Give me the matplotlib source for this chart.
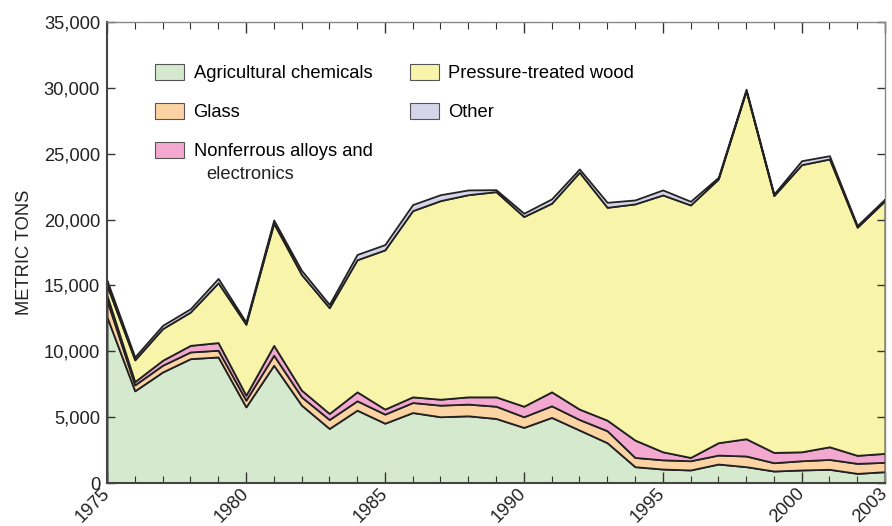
import matplotlib
matplotlib.use("Agg")
import matplotlib.pyplot as plt
from matplotlib.patches import Patch
from matplotlib.ticker import MultipleLocator, FuncFormatter

years = list(range(1975, 2004))
agricultural = [12600, 7000, 8430, 9440, 9570, 5780, 8940, 5910, 4140, 5530,
                4540, 5350, 5030, 5100, 4900, 4220, 4980, 4020, 3060, 1240,
                1060, 990, 1440, 1240, 910, 990, 1040, 730, 860]
glass = [1260, 450, 510, 510, 510, 510, 760, 630, 680, 710,
         690, 760, 880, 890, 930, 810, 880, 800, 910, 700,
         700, 700, 680, 810, 630, 700, 750, 760, 710]
nonferrous = [380, 250, 380, 500, 580, 380, 750, 510, 460, 680,
              380, 430, 450, 550, 710, 800, 1060, 790, 800, 1320,
              610, 250, 940, 1310, 780, 680, 960, 610, 680]
wood = [760, 1650, 2400, 2530, 4540, 5380, 9270, 8780, 8030, 10030,
        12090, 14140, 15080, 15350, 15580, 14400, 14320, 17980, 16160, 17930,
        19500, 19170, 20020, 26410, 19500, 21800, 21850, 17320, 19190]
other = [380, 220, 250, 250, 330, 170, 250, 310, 250, 400,
         400, 460, 450, 360, 150, 250, 330, 250, 380, 300,
         380, 280, 130, 130, 120, 300, 250, 130, 130]

labels = ["Agricultural chemicals", "Glass", "Nonferrous alloys and",
          "Pressure-treated wood", "Other"]
label_cont = "electronics"
colors = ["#d5e9cf", "#fcd3a3", "#f3a9cf", "#f8f5aa", "#d5d5e9"]
xtick_labels = [1975, 1980, 1985, 1990, 1995, 2000, 2003]

plt.rcParams['font.family'] = ['Liberation Sans', 'DejaVu Sans']
FS = 13.2

W, H = 892, 526
fig = plt.figure(figsize=(W / 100, H / 100), dpi=100)
ax = fig.add_axes([107/W, 1 - 483/H, 778/W, 461/H])

ax.stackplot(years, agricultural, glass, nonferrous, wood, other,
             colors=colors, edgecolor="#222222", linewidth=1.3)

ax.set_xlim(1975, 2003)
ax.set_ylim(0, 35000)

ax.xaxis.set_minor_locator(MultipleLocator(1))
ax.set_xticks(xtick_labels)
ax.set_xticklabels([str(v) for v in xtick_labels], rotation=45,
                   ha="right", va="center", rotation_mode="anchor",
                   fontsize=FS, color="#222222")
ax.yaxis.set_major_locator(MultipleLocator(5000))
ax.yaxis.set_major_formatter(FuncFormatter(lambda v, p: f"{int(v):,}"))
ax.tick_params(axis="y", labelsize=FS, labelcolor="#222222")

ax.tick_params(which="both", direction="in", top=True, right=True, color="#333333")
ax.tick_params(axis="x", which="major", length=8, width=1, pad=6)
ax.tick_params(axis="x", which="minor", length=5, width=0.8)
ax.tick_params(axis="y", which="major", length=6, width=1, pad=5)

for side in ["left", "bottom"]:
    ax.spines[side].set_color("#444444")
    ax.spines[side].set_linewidth(1.5)
for side in ["top", "right"]:
    ax.spines[side].set_color("#888888")
    ax.spines[side].set_linewidth(1.0)

ax.set_ylabel("METRIC TONS", fontsize=FS, color="#222222", labelpad=8)

handles = [Patch(facecolor=c, edgecolor="#555555", linewidth=0.8) for c in colors]
leg = ax.legend(handles, labels, ncol=2, loc="upper left", bbox_to_anchor=(0.0617, 0.909),
                frameon=False, fontsize=FS, handlelength=1.6, handleheight=1.0,
                labelspacing=1.12, columnspacing=2.05, handletextpad=0.5, borderpad=0,
                borderaxespad=0)

fig.canvas.draw()
bb = leg.get_texts()[2].get_window_extent()
fig.text((bb.x0 + 13) / W, (bb.y1 - 23) / H, label_cont, ha="left", va="top",
         fontsize=FS, color="#222222")

fig.savefig("out.png", dpi=100)
